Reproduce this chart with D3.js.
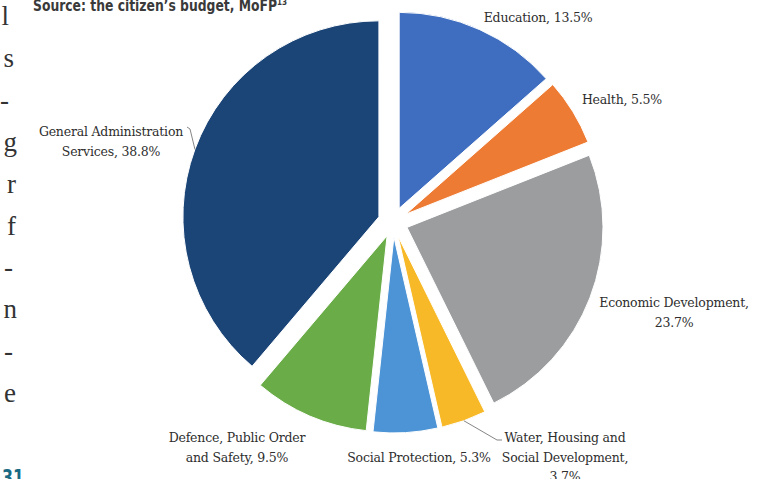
<!DOCTYPE html>
<html>
<head>
<meta charset="utf-8">
<script src="https://cdn.jsdelivr.net/npm/d3@7"></script>
<style>
  body { margin: 0; background: #fff; }
  svg { display: block; }
</style>
</head>
<body>
<div id="plot"></div>
<script>
// spending shares, clockwise from 12 o'clock
var categories = ["Education", "Health", "Economic Development",
  "Water, Housing and Social Development", "Social Protection",
  "Defence, Public Order and Safety", "General Administration Services"];
var shares = [13.5, 5.5, 23.7, 3.7, 5.3, 9.5, 38.8];
var colors = ["#3f6ec0", "#ee7b33", "#9b9d9f", "#f8b928", "#4d94d6", "#6aad48", "#1c4577"];

// label text, already split into lines
var labelLines = [
  ["Education, 13.5%"],
  ["Health, 5.5%"],
  ["Economic Development,", "23.7%"],
  ["Water, Housing and", "Social Development,", "3.7%"],
  ["Social Protection, 5.3%"],
  ["Defence, Public Order", "and Safety, 9.5%"],
  ["General Administration", "Services, 38.8%"]
];

// text fragments of the page around the figure
var sourceText = "Source: the citizen\u2019s budget, MoFP";
var sourceNote = "13";
var marginLetters = ["l", "s", "-", "g", "r", "f", "-", "n", "-", "e"];
var pageNumber = "31";

var W = 760, H = 479;
var cx = 393, cy = 222, R = 196, explode = 15;

// where each label sits (centre x, first baseline)
var labelPos = [[538, 22], [622, 104], [674, 307], [565, 442], [419, 462], [237, 442], [111, 136]];

var svg = d3.select("#plot").append("svg")
  .attr("width", W).attr("height", H);

var pie = d3.pie().sort(null).value(d => d);
var arcs = pie(shares);
var arc = d3.arc().innerRadius(0).outerRadius(R);

function mid(d) { return (d.startAngle + d.endAngle) / 2; }
function shift(d, k) { return [Math.sin(mid(d)) * k, -Math.cos(mid(d)) * k]; }

var g = svg.append("g").attr("transform", `translate(${cx},${cy})`);

g.selectAll("path")
  .data(arcs)
  .join("path")
    .attr("d", arc)
    .attr("transform", d => { var s = shift(d, explode); return `translate(${s[0]},${s[1]})`; })
    .attr("fill", (d, i) => colors[i])
    .attr("stroke", "#fff")
    .attr("stroke-width", 1);

// leader lines for the two labels that have them
function leader(i, pts) {
  var p = shift(arcs[i], explode + R);
  var line = [[cx + p[0], cy + p[1]]].concat(pts);
  svg.append("path")
    .attr("d", d3.line()(line))
    .attr("fill", "none")
    .attr("stroke", "#777")
    .attr("stroke-width", 0.9);
}
leader(3, [[497, 440], [502, 440]]);
leader(6, [[190, 129], [187, 127]]);

var labels = svg.append("g")
  .attr("font-family", "'DejaVu Serif', serif")
  .attr("font-size", 12.5)
  .attr("letter-spacing", -0.2)
  .attr("fill", "#2e2e2e")
  .attr("text-anchor", "middle");

labelLines.forEach(function(lines, i) {
  var t = labels.append("text")
    .attr("x", labelPos[i][0])
    .attr("y", labelPos[i][1]);
  lines.forEach(function(s, j) {
    t.append("tspan")
      .attr("x", labelPos[i][0])
      .attr("dy", j === 0 ? 0 : 19.5)
      .text(s);
  });
});

// source line at the top
var src = svg.append("text")
  .attr("x", 33).attr("y", 11)
  .attr("font-family", "'Liberation Sans Narrow', 'DejaVu Sans Condensed', Roboto, sans-serif")
  .attr("font-weight", "bold")
  .attr("font-size", 16)
  .attr("fill", "#3a3a3a");
src.append("tspan")
  .attr("textLength", 244)
  .attr("lengthAdjust", "spacingAndGlyphs")
  .text(sourceText);
src.append("tspan")
  .attr("dy", -6).attr("font-size", 8)
  .text(sourceNote);

// ends of the body text lines on the left
var letterRight = [9, 14, 9, 17, 16, 16, 13, 17, 13, 16];
svg.append("g")
  .attr("font-family", "'Liberation Serif', serif")
  .attr("font-size", 27)
  .attr("fill", "#333")
  .attr("text-anchor", "end")
  .selectAll("text")
  .data(marginLetters)
  .join("text")
    .attr("x", (d, i) => letterRight[i])
    .attr("y", (d, i) => 25 + i * 41.9)
    .text(d => d);

svg.append("text")
  .attr("x", 2).attr("y", 485)
  .attr("font-family", "'Liberation Sans Narrow', 'DejaVu Sans Condensed', Roboto, sans-serif")
  .attr("font-weight", "bold")
  .attr("font-size", 22)
  .attr("textLength", 22)
  .attr("lengthAdjust", "spacingAndGlyphs")
  .attr("fill", "#1b6a84")
  .text(pageNumber);
</script>
</body>
</html>
